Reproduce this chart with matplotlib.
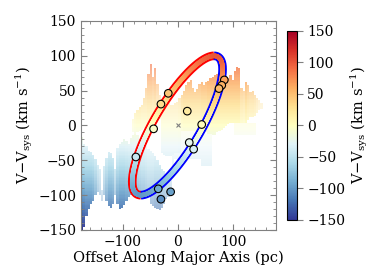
import numpy as np
import matplotlib
matplotlib.use("Agg")
import matplotlib.pyplot as plt
from matplotlib.collections import LineCollection
from matplotlib.colors import Normalize
from matplotlib.ticker import AutoMinorLocator

plt.rcParams['font.family'] = 'DejaVu Serif'
plt.rcParams['mathtext.fontset'] = 'dejavuserif'

# ---- PV emission, read off as 4 pc wide strips: left edge, v range, density ----
# blue side (left, below zero)
blue_x = [-176, -172, -168, -164, -160, -156, -152, -148, -144, -140, -136, -132,
          -128, -124, -120, -116, -112, -108, -104, -100, -96, -92, -88, -84,
          -80, -76, -72, -68, -64, -60, -56, -52, -48, -44, -40, -36, -32, -28,
          -24, -20, -16]
blue_lo = [-150, -145, -130, -120, -112, -108, -100, -95, -100, -108, -100, -108,
           -116, -118, -112, -100, -112, -120, -118, -114, -108, -102, -100, -98,
           -96, -94, -94, -96, -98, -100, -102, -112, -116, -118, -120, -122, -118,
           -112, -106, -102, -98]
blue_hi = [-15, -25, -30, -35, -38, -42, -48, -55, -62, -92, -58, -45,
           -38, -40, -45, -62, -32, -26, -24, -20, -22, -26, -18, -14,
           -12, -14, -20, -24, -28, -30, -34, -36, -40, -44, -50, -56, -62,
           -66, -70, -72, -74]
blue_dens = [1.0, 0.95, 0.9, 0.9, 0.9, 0.85, 0.7, 0.5, 0.4, 0.3, 0.5, 0.7,
             0.85, 0.85, 0.8, 0.5, 0.8, 0.9, 0.9, 0.9, 0.85, 0.8, 0.8, 0.75,
             0.7, 0.7, 0.65, 0.6, 0.6, 0.55, 0.5, 0.5, 0.5, 0.55, 0.55, 0.55, 0.5,
             0.5, 0.45, 0.4, 0.3]

# yellow / orange side (upper left)
warm_x = [-84, -80, -76, -72, -68, -64, -60, -56, -52, -48, -44, -40, -36]
warm_lo = [-10, -12, -10, -8, -6, -4, 0, 5, 5, 10, 15, 10, 10]
warm_hi = [10, 18, 22, 26, 30, 40, 55, 75, 88, 70, 82, 60, 45]
warm_dens = [0.45, 0.55, 0.6, 0.6, 0.55, 0.55, 0.55, 0.6, 0.6, 0.55, 0.6, 0.5, 0.4]

# inside the ring (pale)
mid_x = [-32, -28, -24, -20, -16, -12, -8, -4, 0]
mid_lo = [-40, -42, -44, -44, -44, -42, -40, -40, -40]
mid_hi = [28, 30, 32, 32, 30, 30, 32, 34, 40]
mid_dens = [0.45, 0.45, 0.45, 0.45, 0.45, 0.45, 0.45, 0.45, 0.5]

# receding side (right)
red_x = [4, 8, 12, 16, 20, 24, 28, 32, 36, 40, 44, 48, 52, 56, 60, 64, 68, 72,
         76, 80, 84, 88, 92, 96, 100, 104, 108, 112, 116, 120, 124, 128, 132,
         136, 140, 144, 148]
red_lo = [-8, -8, -8, -8, -8, -8, -8, -8, -8, -8, -10, -10, -12, -12, -13, -13,
          -10, -8, -5, -3, 0, 2, 4, 4, 5, 5, 5, 5, 5, 5, 8, 12, 12, 15, 18, 22, 25]
red_hi = [45, 50, 58, 62, 66, 55, 48, 52, 60, 62, 58, 62, 65, 68, 70, 72, 74, 72,
          70, 66, 62, 68, 72, 66, 78, 85, 82, 55, 50, 63, 58, 48, 50, 44, 40, 36, 32]
red_dens = [0.65, 0.7, 0.7, 0.7, 0.7, 0.7, 0.7, 0.7, 0.7, 0.75, 0.75, 0.75,
            0.8, 0.8, 0.8, 0.8, 0.8, 0.8, 0.8, 0.8, 0.8, 0.8, 0.8, 0.8, 0.8, 0.8,
            0.8, 0.65, 0.6, 0.75, 0.65, 0.6, 0.6, 0.55, 0.45, 0.35, 0.3]

# sparse faint emission (lower right and right of the ring)
faint_x = [-12, -8, -4, 0, 4, 8, 12, 16, 20, 24, 28, 32, 36, 40, 44, 48, 52, 56,
           100, 104, 108, 112, 116, 120, 124, 128, 132, 136]
faint_lo = [-60, -48, -48, -48, -48, -48, -48, -48, -48, -48, -48, -48, -48,
            -58, -58, -58, -58, -58, -13, -13, -13, -13, -13, -13, -13, -13, -13, -13]
faint_hi = [-40, -8, -8, -8, -8, -8, -8, -8, -8, -8, -8, -8, -8,
            -12, -12, -12, -12, -12, 5, 5, 5, 5, 5, 5, 5, 5, 5, 5]
faint_dens = [0.3] * 18 + [0.3] * 10

# ---- knots ----
knot_x = [-17.6, -30.9, -44.2, 84.2, 79.5, 74.5, 16.9, 43.1, 20.5, 28.5,
          -76.4, -35.8, -30.9, -13.3]
knot_v = [46.2, 30.7, -4.8, 65.4, 57.7, 53.0, 20.6, 1.4, -24.5, -34.0,
          -45.2, -90.9, -105.8, -95.2]

# ---- ring model ----
ring_x0, ring_v0 = -1.0, 0.0
ring_xamp, ring_vamp = 82.0, 100.0
ring_phase = 36.0  # deg

cmap = plt.get_cmap('RdYlBu_r')
norm = Normalize(-150, 150)

fig = plt.figure(figsize=(3.74, 2.80), dpi=100)
ax = fig.add_axes([0.2166, 0.1786, 0.5214, 0.7464])
cax = fig.add_axes([0.767, 0.2143, 0.0267, 0.675])

xlim = (-176, 178)
ylim = (-150, 150)

# emission image, each cell coloured by its velocity
step = 2.0
strip_w = 4.0
xe = np.arange(xlim[0], xlim[1] + step, step)
ye = np.arange(ylim[0], ylim[1] + step, step)
xc = 0.5 * (xe[1:] + xe[:-1])
yc = 0.5 * (ye[1:] + ye[:-1])
XX, YY = np.meshgrid(xc, yc)
alpha = np.zeros_like(XX)
for sx, slo, shi, sd in [(blue_x, blue_lo, blue_hi, blue_dens),
                         (warm_x, warm_lo, warm_hi, warm_dens),
                         (mid_x, mid_lo, mid_hi, mid_dens),
                         (red_x, red_lo, red_hi, red_dens),
                         (faint_x, faint_lo, faint_hi, faint_dens)]:
    for x0, v0, v1, d in zip(sx, slo, shi, sd):
        m = (XX >= x0) & (XX < x0 + strip_w) & (YY >= v0) & (YY < v1)
        alpha[m] = np.maximum(alpha[m], d)
rgba = cmap(norm(YY))
rgba[..., 3] = alpha
ax.imshow(rgba, extent=(xe[0], xe[-1], ye[0], ye[-1]), origin='lower',
          aspect='auto', interpolation='nearest', zorder=1)

# ring: thick outline in red/blue, thinner velocity-coloured line on top
d = np.radians(ring_phase)
t_red = np.linspace(d, d + np.pi, 300)
t_blue = np.linspace(d + np.pi, d + 2 * np.pi, 300)


def ring(t):
    return ring_x0 + ring_xamp * np.cos(t), ring_v0 + ring_vamp * np.cos(t - d)


for t, c in [(t_red, 'red'), (t_blue, 'blue')]:
    rx, rv = ring(t)
    ax.plot(rx, rv, color=c, lw=6.2, solid_capstyle='butt', zorder=3)
for t in [t_red, t_blue]:
    rx, rv = ring(t)
    pts = np.column_stack([rx, rv]).reshape(-1, 1, 2)
    segs = np.concatenate([pts[:-1], pts[1:]], axis=1)
    lc = LineCollection(segs, colors=cmap(norm(0.5 * (rv[1:] + rv[:-1]))),
                        linewidths=3.3, capstyle='round', zorder=4)
    ax.add_collection(lc)

ax.plot(0, 0, 'x', color='gray', ms=3.5, mew=0.8, zorder=5)
ax.scatter(knot_x, knot_v, s=30, c=knot_v, cmap=cmap, norm=norm,
           edgecolors='k', linewidths=0.8, zorder=6)

ax.set_xlim(xlim)
ax.set_ylim(ylim)
ax.set_xticks([-100, 0, 100])
ax.set_yticks([-150, -100, -50, 0, 50, 100, 150])
ax.xaxis.set_minor_locator(AutoMinorLocator())
ax.yaxis.set_minor_locator(AutoMinorLocator())
ax.tick_params(which='both', direction='in', top=True, right=True,
               color='gray', labelsize=10)
ax.tick_params(which='major', length=4)
ax.tick_params(which='minor', length=2)
for s in ax.spines.values():
    s.set_color('gray')
ax.set_xlabel('Offset Along Major Axis (pc)', fontsize=10.5, labelpad=1)
ax.set_ylabel(r'V$-$V$_{\rm sys}$ (km s$^{-1}$)', fontsize=10.5, labelpad=2)

sm = plt.cm.ScalarMappable(norm=norm, cmap=cmap)
cb = fig.colorbar(sm, cax=cax)
cb.set_ticks([-150, -100, -50, 0, 50, 100, 150])
cb.ax.tick_params(labelsize=10, color='gray', length=4)
cb.set_label(r'V$-$V$_{\rm sys}$ (km s$^{-1}$)', fontsize=10.5, labelpad=2)

fig.savefig('out.png', dpi=100)
